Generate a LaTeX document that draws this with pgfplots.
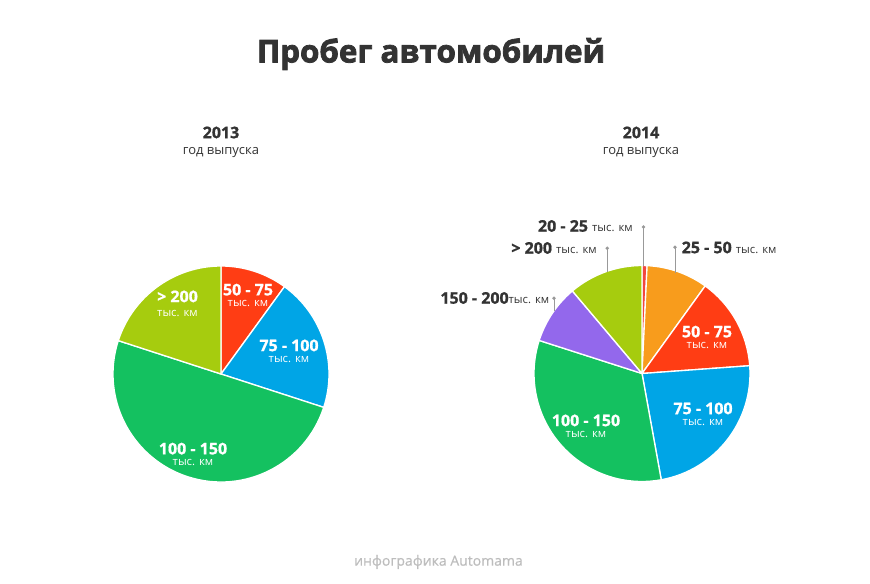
\documentclass[border=0pt]{standalone}
\usepackage{pgfplots}
\usepackage{pgfplotstable}
\usepackage{fontspec}
\pgfplotsset{compat=1.18}
\setmainfont{Open Sans}[BoldFeatures={FakeBold=1}]
\newfontfamily\heavy{Open Sans}[BoldFeatures={FakeBold=2.5}]
\newfontfamily\semi{Open Sans}[FakeBold=0.7]

\definecolor{cRed}{HTML}{FF3D14}
\definecolor{cBlue}{HTML}{00A5E6}
\definecolor{cGreen}{HTML}{14C160}
\definecolor{cLime}{HTML}{A6CC0E}
\definecolor{cOrange}{HTML}{F89C1C}
\definecolor{cPurple}{HTML}{9368EC}
\definecolor{cThin}{HTML}{F2463F}
\definecolor{txt}{HTML}{333333}
\definecolor{lead}{HTML}{999999}
\definecolor{foot}{HTML}{BDBDBD}

% shares in percent, clockwise from 12 o'clock
\pgfplotstableread{
value color
10   cRed
20   cBlue
50   cGreen
20   cLime
}\pieA
\pgfplotstableread{
value color
0.75  cThin
9.2   cOrange
13.9  cRed
23.3  cBlue
32.8  cGreen
8.9   cPurple
11.15 cLime
}\pieB

% #1 table, #2 cx, #3 cy (pixels), #4 radius
\newcommand\drawpie[4]{%
  \pgfplotstablegetrowsof{#1}%
  \pgfmathtruncatemacro\nrows{\pgfplotsretval-1}%
  \def\curangle{90}%
  \pgfplotsforeachungrouped \i in {0,...,\nrows}{%
    \pgfplotstablegetelem{\i}{value}\of{#1}\let\val\pgfplotsretval
    \pgfplotstablegetelem{\i}{color}\of{#1}\let\col\pgfplotsretval
    \pgfmathsetmacro\endangle{\curangle-3.6*\val}%
    \edef\cmd{\noexpand\fill[\col, draw=white, line width=1pt, line join=round]
      (axis cs:#2,#3) -- ++(\curangle:#4) arc[start angle=\curangle, end angle=\endangle, radius=#4] -- cycle;}%
    \cmd
    \global\let\curangle\endangle
  }%
}

% label inside a slice: #1 x, #2 y of the top of the bold line, #3 baseline skip, #4 text
\newcommand\slicelabel[4]{%
  \node[white, inner sep=0pt, anchor=north, align=center,
        font=\fontsize{8.5}{#3}\selectfont] at (axis cs:#1,#2)
        {{\bfseries\fontsize{12}{#3}\selectfont #4}\\тыс. км};
}

\begin{document}
\begin{tikzpicture}
\begin{axis}[
  x=0.75pt, y=0.75pt,
  xmin=0, xmax=870, ymin=0, ymax=584,
  y dir=reverse,
  hide axis,
  clip=false,
  scale only axis,
]
  \pgfplotsextra{%
    \path (axis cs:0,0) rectangle (axis cs:870,584);
    \drawpie{\pieA}{221}{374}{81pt}
    \drawpie{\pieB}{642}{373.5}{81pt}
  }

  % titles
  \node[txt, font=\heavy\bfseries\fontsize{23.5}{27}\selectfont] at (axis cs:431,54) {Пробег автомобилей};
  \node[txt, font=\bfseries\fontsize{12}{14}\selectfont] at (axis cs:221,132.5) {2013};
  \node[txt, font=\fontsize{9.75}{12}\selectfont] at (axis cs:221,153) {год выпуска};
  \node[txt, font=\bfseries\fontsize{12}{14}\selectfont] at (axis cs:641,132.5) {2014};
  \node[txt, font=\fontsize{9.75}{12}\selectfont] at (axis cs:641,153) {год выпуска};

  % inner labels, 2013
  \slicelabel{177.5}{290.3}{10.7pt}{> 200}
  \slicelabel{248}{283.5}{8.7pt}{50 - 75}
  \slicelabel{289}{339.3}{8.5pt}{75 - 100}
  \slicelabel{193}{442.5}{8.7pt}{100 - 150}
  % inner labels, 2014
  \slicelabel{707}{325.5}{8.7pt}{50 - 75}
  \slicelabel{703}{402.3}{8.6pt}{75 - 100}
  \slicelabel{586}{414.3}{8.5pt}{100 - 150}

  % outer labels with leaders, 2014
  \begin{scope}[every node/.style={txt, inner sep=0pt}]
  \node[anchor=east] at (axis cs:633,226) {\bfseries\fontsize{12}{14}\selectfont 20 - 25 \fontsize{8.5}{10}\selectfont\mdseries тыс. км};
  \node[anchor=east] at (axis cs:597,248) {\bfseries\fontsize{12}{14}\selectfont > 200 \fontsize{8.5}{10}\selectfont\mdseries тыс. км};
  \node[anchor=east] at (axis cs:549.5,298) {\bfseries\fontsize{12}{14}\selectfont 150 - 200\fontsize{8.5}{10}\selectfont\mdseries тыс. км};
  \node[anchor=west] at (axis cs:681.5,247.5) {\bfseries\fontsize{12}{14}\selectfont 25 - 50 \fontsize{8.5}{10}\selectfont\mdseries тыс. км};
  \end{scope}
  \begin{scope}[lead, line width=0.75pt]
  \draw (axis cs:643.5,227) -- (axis cs:643.5,266);
  \fill (axis cs:643.5,227) circle[radius=1.4pt];
  \draw (axis cs:607.3,248.3) -- (axis cs:607.3,272);
  \fill (axis cs:607.3,248.3) circle[radius=1.4pt];
  \draw (axis cs:675,247.3) -- (axis cs:675,273);
  \fill (axis cs:675,247.3) circle[radius=1.4pt];
  \draw (axis cs:554,298.3) -- (axis cs:554,311);
  \fill (axis cs:554,298.3) circle[radius=1.4pt];
  \end{scope}

  \node[foot, font=\semi\fontsize{10.5}{12}\selectfont] at (axis cs:438.5,562) {инфографика Automama};
\end{axis}
\end{tikzpicture}
\end{document}
